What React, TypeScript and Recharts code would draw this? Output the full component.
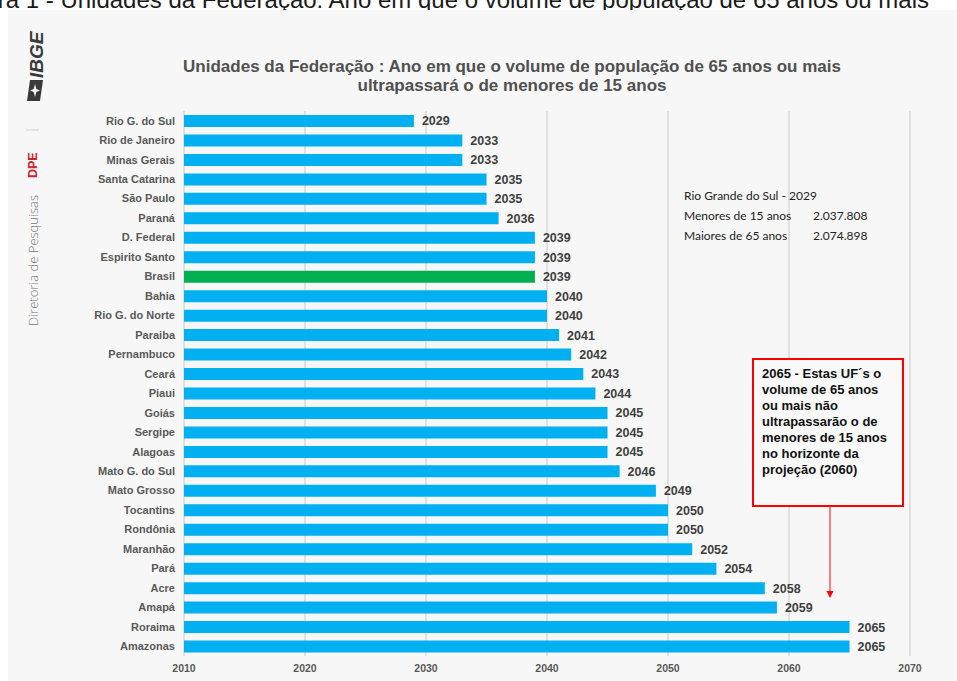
import React from 'react';
import { BarChart, Bar, XAxis, YAxis, CartesianGrid, LabelList, Cell } from 'recharts';

const states = [
  'Rio G. do Sul', 'Rio de Janeiro', 'Minas Gerais', 'Santa Catarina', 'São Paulo', 'Paraná',
  'D. Federal', 'Espirito Santo', 'Brasil', 'Bahia', 'Rio G. do Norte', 'Paraiba', 'Pernambuco',
  'Ceará', 'Piaui', 'Goiás', 'Sergipe', 'Alagoas', 'Mato G. do Sul', 'Mato Grosso', 'Tocantins',
  'Rondônia', 'Maranhão', 'Pará', 'Acre', 'Amapá', 'Roraima', 'Amazonas',
];
const years = [
  2029, 2033, 2033, 2035, 2035, 2036, 2039, 2039, 2039, 2040, 2040, 2041, 2042, 2043, 2044,
  2045, 2045, 2045, 2046, 2049, 2050, 2050, 2052, 2054, 2058, 2059, 2065, 2065,
];
const xTicks = [2010, 2020, 2030, 2040, 2050, 2060, 2070];
const highlightState = 'Brasil';

const titleLines = [
  'Unidades da Federação : Ano em que o volume de população de 65 anos ou mais',
  'ultrapassará o de menores de 15 anos',
];
const captionText = 'Figura 1 - Unidades da Federação: Ano em que o volume de população de 65 anos ou mais';
const infoLines = [
  ['Rio Grande do Sul - 2029', ''],
  ['Menores de 15 anos', '2.037.808'],
  ['Maiores de 65 anos', '2.074.898'],
];
const noteLines = [
  '2065 - Estas UF´s o',
  'volume de 65 anos',
  'ou mais não',
  'ultrapassarão o de',
  'menores de 15 anos',
  'no horizonte da',
  'projeção (2060)',
];

const data = states.map((name, i) => ({ name, year: years[i] }));

const ARIAL = '"Liberation Sans", Arial, sans-serif';

export default function App() {
  return (
    <div style={{ position: 'absolute', left: 0, top: 0, width: 957, height: 681, overflow: 'hidden', background: '#ffffff' }}>
      <svg width={957} height={681} style={{ position: 'absolute', left: 0, top: 0 }}>
        <text x={929} y={8} textAnchor="end" fontFamily={ARIAL} fontSize={24} fill="#1a1a1a">{captionText}</text>
        <rect x={8} y={10} width={949} height={671} fill="#f7f7f7" />
      </svg>
      <div style={{ position: 'absolute', left: 0, top: 0 }}>
        <BarChart
          width={957}
          height={681}
          data={data}
          layout="vertical"
          margin={{ top: 111, right: 47, bottom: 0, left: 14 }}
          barSize={12}
        >
          <CartesianGrid horizontal={false} stroke="#d9d9d9" strokeWidth={1.5} />
          <XAxis
            type="number"
            dataKey="year"
            domain={[2010, 2070]}
            ticks={xTicks}
            interval={0}
            height={25}
            axisLine={false}
            tickLine={false}
            tickMargin={3}
            tick={{ fontSize: 10.5, fontWeight: 'bold', fill: '#595959', fontFamily: ARIAL }}
          />
          <YAxis
            type="category"
            dataKey="name"
            width={170}
            interval={0}
            axisLine={false}
            tickLine={false}
            tickMargin={3}
            tick={{ fontSize: 11, fontWeight: 'bold', fill: '#595959', fontFamily: ARIAL }}
          />
          <Bar dataKey="year" fill="#00b0f0" isAnimationActive={false}>
            {data.map((d) => (
              <Cell key={d.name} fill={d.name === highlightState ? '#00b050' : '#00b0f0'} />
            ))}
            <LabelList
              dataKey="year"
              position="right"
              offset={8}
              style={{ fontSize: 12.5, fontWeight: 'bold', fill: '#3f3f3f', fontFamily: ARIAL }}
            />
          </Bar>
        </BarChart>
      </div>
      <svg width={957} height={681} style={{ position: 'absolute', left: 0, top: 0, pointerEvents: 'none' }}>
        {/* IBGE logo */}
        <text transform="translate(43,78) rotate(-90)" fontFamily={ARIAL} fontSize={19} fontWeight="bold" fontStyle="italic" fill="#3a3a3a">IBGE</text>
        <g transform="translate(27,80)">
          <path d="M3 0 L16 0 L13 21 L0 21 Z" fill="#3a3a3a" />
          <path d="M8 4 L9.3 9 L13 10.5 L9.3 12 L8 17 L6.7 12 L3 10.5 L6.7 9 Z" fill="#f7f7f7" />
        </g>
        <line x1={26} y1={130} x2={39} y2={130} stroke="#dddddd" strokeWidth={1.5} />
        <text transform="translate(37,178) rotate(-90)" fontFamily={ARIAL} fontSize={12.5} fontWeight="bold" fill="#d0202e">DPE</text>
        <text transform="translate(38,326) rotate(-90)" fontFamily='"Open Sans", sans-serif' fontSize={13} fontWeight={300} fill="#777777">Diretoria de Pesquisas</text>
        {/* Title */}
        {titleLines.map((t, i) => (
          <text key={t} x={512} y={72 + i * 19} textAnchor="middle" fontFamily={ARIAL} fontSize={17} fontWeight="bold" fill="#505050">{t}</text>
        ))}
        {/* Info block */}
        {infoLines.map((l, i) => (
          <g key={l[0]}>
            <text x={684} y={200 + i * 20} fontFamily='Lato, sans-serif' fontSize={12} fill="#222">{l[0]}</text>
            {l[1] && <text x={813} y={200 + i * 20} fontFamily='Lato, sans-serif' fontSize={12} fill="#222">{l[1]}</text>}
          </g>
        ))}
        {/* Annotation */}
        <rect x={753} y={359} width={150} height={147} fill="#f9f9f9" stroke="#ff0000" strokeWidth={2} />
        {noteLines.map((l, i) => (
          <text key={l} x={762} y={377.5 + i * 16.1} fontFamily={ARIAL} fontSize={13} fontWeight="bold" fill="#111">{l}</text>
        ))}
        <line x1={830} y1={507} x2={830} y2={592} stroke="#ff0000" strokeWidth={1} />
        <polygon points="826.5,591 833.5,591 830,598" fill="#ff0000" />
      </svg>
    </div>
  );
}
